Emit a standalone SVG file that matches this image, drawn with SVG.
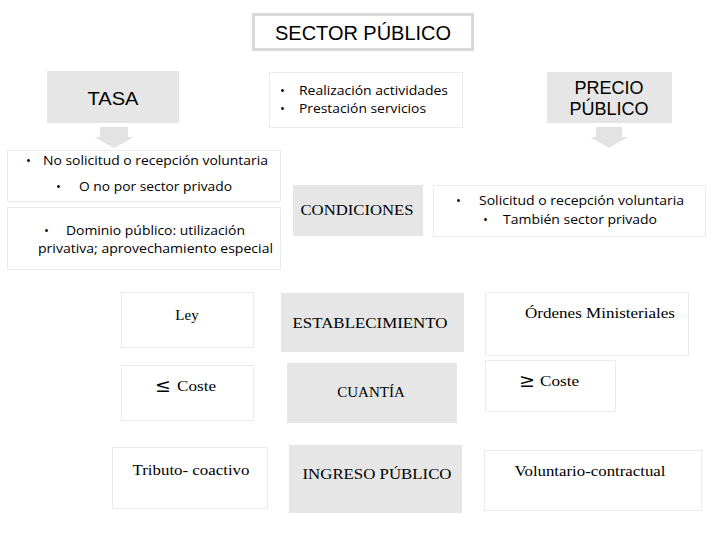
<svg xmlns="http://www.w3.org/2000/svg" width="720" height="540" viewBox="0 0 720 540">
<style>
.g{fill:#e6e6e6;stroke:none}
.w{fill:#fff;stroke:#ebebeb;stroke-width:1}
.ar{fill:#e3e3e3}
.sa{font-family:"Liberation Sans",Arial,sans-serif;fill:#000}
.ca{font-family:"Open Sans","Noto Sans",sans-serif;font-size:13px;fill:#000}
.se{font-family:"Liberation Serif","Times New Roman",serif;font-size:15px;fill:#000}
.sym{font-family:"DejaVu Serif",serif;font-size:19px;fill:#000}
.m{text-anchor:middle}
</style>
<rect width="720" height="540" fill="#fff"/>
<g id="sector-publico">
<rect x="253.5" y="14.5" width="219" height="35" fill="#fff" stroke="#d9d9d9" stroke-width="3"/>
<text class="sa m" x="363" y="40" font-size="20" textLength="176" lengthAdjust="spacingAndGlyphs">SECTOR PÚBLICO</text>
</g>
<g id="tasa">
<rect class="g" x="47" y="71" width="132" height="52"/>
<text class="sa m" x="113" y="105" font-size="19" textLength="51" lengthAdjust="spacingAndGlyphs">TASA</text>
</g>
<g id="realizacion">
<rect class="w" x="269.5" y="72.5" width="193" height="55"/>
<text class="ca" x="280" y="95">•</text>
<text class="ca" x="299" y="95" textLength="149" lengthAdjust="spacingAndGlyphs">Realización actividades</text>
<text class="ca" x="280" y="113">•</text>
<text class="ca" x="299" y="113" textLength="127" lengthAdjust="spacingAndGlyphs">Prestación servicios</text>
</g>
<g id="precio-publico">
<rect class="g" x="547" y="72" width="125" height="51"/>
<text class="sa m" x="609" y="94" font-size="18">PRECIO</text>
<text class="sa m" x="609" y="115" font-size="18">PÚBLICO</text>
</g>
<g id="connectors">
<path class="ar" d="M100 127H128V137H134L114 148L94 137H100Z"/>
<path class="ar" d="M596 127H622V137H628L609 148L590 137H596Z"/>
</g>
<g id="tasa-cond1">
<rect class="w" x="7.5" y="150.5" width="273" height="51"/>
<text class="ca" x="26" y="165">•</text>
<text class="ca" x="43" y="165" textLength="225" lengthAdjust="spacingAndGlyphs">No solicitud o recepción voluntaria</text>
<text class="ca" x="56" y="191">•</text>
<text class="ca" x="79" y="191" textLength="153" lengthAdjust="spacingAndGlyphs">O no por sector privado</text>
</g>
<g id="tasa-cond2">
<rect class="w" x="7.5" y="207.5" width="273" height="62"/>
<text class="ca" x="44" y="235">•</text>
<text class="ca" x="66" y="235" textLength="179" lengthAdjust="spacingAndGlyphs">Dominio público: utilización</text>
<text class="ca" x="38" y="253" textLength="235" lengthAdjust="spacingAndGlyphs">privativa; aprovechamiento especial</text>
</g>
<g id="condiciones">
<rect class="g" x="293" y="185" width="130" height="51"/>
<text class="se m" x="357" y="215" textLength="113" lengthAdjust="spacingAndGlyphs">CONDICIONES</text>
</g>
<g id="precio-cond">
<rect class="w" x="433.5" y="185.5" width="272" height="51"/>
<text class="ca" x="456" y="205">•</text>
<text class="ca" x="479" y="205" textLength="205" lengthAdjust="spacingAndGlyphs">Solicitud o recepción voluntaria</text>
<text class="ca" x="483" y="224">•</text>
<text class="ca" x="503" y="224" textLength="154" lengthAdjust="spacingAndGlyphs">También sector privado</text>
</g>
<g id="ley">
<rect class="w" x="121.5" y="292.5" width="132" height="55"/>
<text class="se m" x="187" y="320" font-size="17">Ley</text>
</g>
<g id="establecimiento">
<rect class="g" x="281" y="293" width="183" height="59"/>
<text class="se m" x="370" y="328" textLength="155" lengthAdjust="spacingAndGlyphs">ESTABLECIMIENTO</text>
</g>
<g id="ordenes">
<rect class="w" x="485.5" y="292.5" width="203" height="63"/>
<text class="se m" x="600" y="318" font-size="12.5" textLength="150" lengthAdjust="spacingAndGlyphs">Órdenes Ministeriales</text>
</g>
<g id="menor-coste">
<rect class="w" x="121.5" y="365.5" width="132" height="55"/>
<text class="sym" x="155" y="392">≤</text>
<text class="se" x="177" y="391" font-size="16" textLength="39" lengthAdjust="spacingAndGlyphs">Coste</text>
</g>
<g id="cuantia">
<rect class="g" x="287" y="363" width="170" height="60"/>
<text class="se m" x="371" y="397">CUANTÍA</text>
</g>
<g id="mayor-coste">
<rect class="w" x="485.5" y="360.5" width="130" height="51"/>
<text class="sym" x="519" y="387">≥</text>
<text class="se" x="540" y="386" font-size="16" textLength="39" lengthAdjust="spacingAndGlyphs">Coste</text>
</g>
<g id="tributo">
<rect class="w" x="112.5" y="447.5" width="155" height="61"/>
<text class="se m" x="191" y="475" font-size="16" textLength="117" lengthAdjust="spacingAndGlyphs">Tributo-  coactivo</text>
</g>
<g id="ingreso-publico">
<rect class="g" x="289" y="445" width="173" height="68"/>
<text class="se m" x="377" y="479" textLength="149" lengthAdjust="spacingAndGlyphs">INGRESO PÚBLICO</text>
</g>
<g id="voluntario">
<rect class="w" x="484.5" y="450.5" width="217" height="60"/>
<text class="se m" x="590" y="476" font-size="16" textLength="151" lengthAdjust="spacingAndGlyphs">Voluntario-contractual</text>
</g>
</svg>
